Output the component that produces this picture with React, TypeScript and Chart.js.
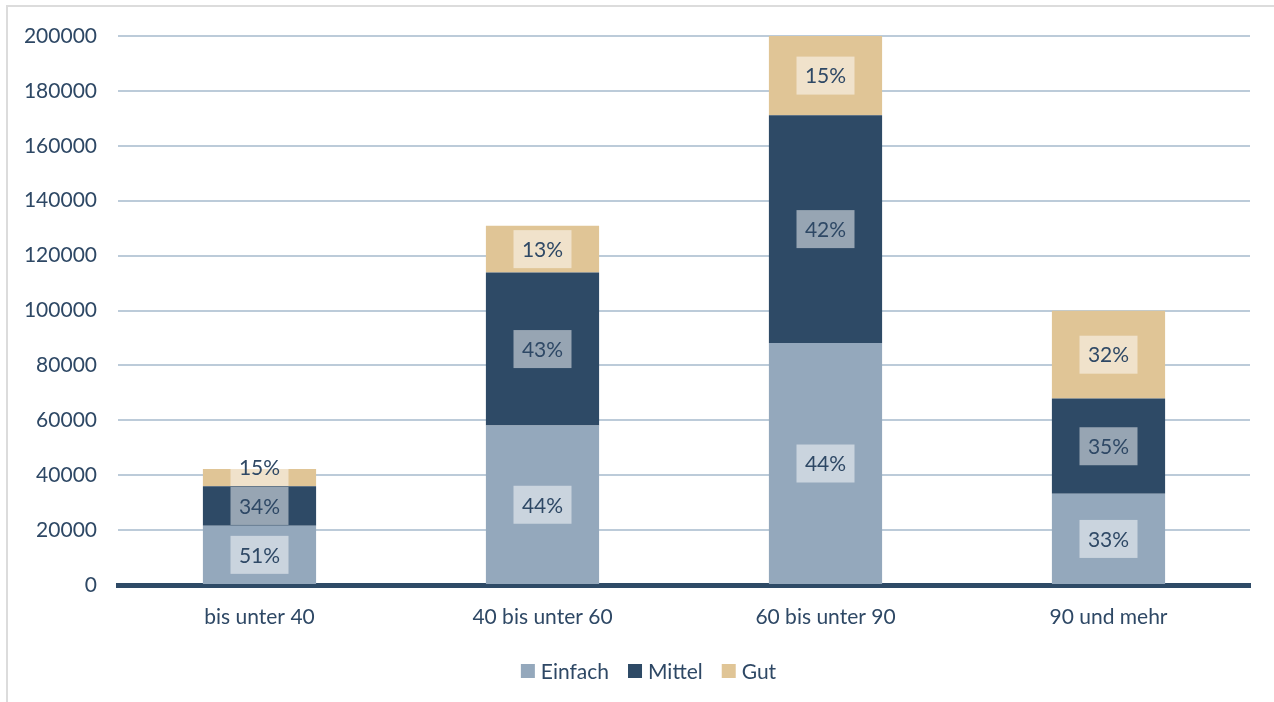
import React, { useEffect, useRef } from "react";
import { Chart, registerables } from "chart.js";

Chart.register(...registerables);

const categories = ["bis unter 40", "40 bis unter 60", "60 bis unter 90", "90 und mehr"];
const einfach = [21600, 58100, 88150, 33200];
const mittel = [14400, 55700, 83000, 34700];
const gut = [6300, 17100, 28850, 32000];
const pctEinfach = ["51%", "44%", "44%", "33%"];
const pctMittel = ["34%", "43%", "42%", "35%"];
const pctGut = ["15%", "13%", "15%", "32%"];
const yTicks = [0, 20000, 40000, 60000, 80000, 100000, 120000, 140000, 160000, 180000, 200000];

const TEXT = "#2e4865";
const FONT = "Lato";

const labelPlugin = {
  id: "segLabels",
  afterDatasetsDraw(chart: any) {
    const ctx = chart.ctx;
    const labelSets = [pctEinfach, pctMittel, pctGut];
    const boxW = 58;
    const boxH = 38;
    chart.data.datasets.forEach((_ds: any, di: number) => {
      const meta = chart.getDatasetMeta(di);
      meta.data.forEach((el: any, idx: number) => {
        const p = el.getProps(["x", "y", "base", "width"], true);
        const top = Math.min(p.y, p.base);
        const bottom = Math.max(p.y, p.base);
        const segH = bottom - top;
        let bTop: number;
        if (segH >= boxH) bTop = (top + bottom) / 2 - boxH / 2;
        else bTop = bottom - boxH;
        const cx = p.x;
        ctx.save();
        ctx.beginPath();
        ctx.rect(p.x - p.width / 2, top, p.width, segH);
        ctx.clip();
        ctx.fillStyle = "rgba(255,255,255,0.5)";
        ctx.fillRect(cx - boxW / 2, bTop, boxW, boxH);
        ctx.restore();
        ctx.save();
        ctx.fillStyle = TEXT;
        ctx.font = `21px ${FONT}`;
        ctx.textAlign = "center";
        ctx.textBaseline = "middle";
        ctx.fillText(labelSets[di][idx], cx, bTop + boxH / 2 + 1);
        ctx.restore();
      });
    });
  },
};

const legendPlugin = {
  id: "customLegend",
  afterDraw(chart: any) {
    const ctx = chart.ctx;
    ctx.save();
    ctx.font = `21px ${FONT}`;
    ctx.textBaseline = "middle";
    ctx.textAlign = "left";
    const box = 14;
    const gapBoxText = 6;
    const gapItems = 19;
    const items = chart.data.datasets.map((d: any) => ({
      text: d.label,
      color: d.backgroundColor,
      w: ctx.measureText(d.label).width,
    }));
    const total =
      items.reduce((s: number, it: any) => s + box + gapBoxText + it.w, 0) + gapItems * (items.length - 1);
    const centerX = 648.5;
    const cy = 671;
    let x = centerX - total / 2;
    items.forEach((it: any) => {
      ctx.fillStyle = it.color;
      ctx.fillRect(x, cy - box / 2, box, box);
      x += box + gapBoxText;
      ctx.fillStyle = TEXT;
      ctx.fillText(it.text, x, cy + 1);
      x += it.w + gapItems;
    });
    ctx.restore();
  },
};

export default function App() {
  const ref = useRef<HTMLCanvasElement | null>(null);
  useEffect(() => {
    if (!ref.current) return;
    const chart = new Chart(ref.current, {
      type: "bar",
      data: {
        labels: categories,
        datasets: [
          { label: "Einfach", data: einfach, backgroundColor: "#94a8bc", borderWidth: 0 },
          { label: "Mittel", data: mittel, backgroundColor: "#2e4a66", borderWidth: 0 },
          { label: "Gut", data: gut, backgroundColor: "#e0c596", borderWidth: 0 },
        ],
      },
      options: {
        responsive: false,
        animation: false,
        devicePixelRatio: 1,
        datasets: { bar: { barPercentage: 0.4, categoryPercentage: 1 } },
        layout: { padding: { top: 36, right: 24, left: 0, bottom: 57 } },
        plugins: {
          legend: { display: false },
          tooltip: { enabled: false },
        },
        scales: {
          x: {
            stacked: true,
            z: 1,
            grid: { display: false, drawTicks: false },
            border: { display: true, color: "#2e4a66", width: 5 },
            ticks: { color: TEXT, font: { family: FONT, size: 21 }, padding: 20, maxRotation: 0 },
            afterFit: (s: any) => {
              s.height = 60;
            },
          },
          y: {
            stacked: true,
            min: 0,
            max: 200000,
            afterBuildTicks: (s: any) => {
              s.ticks = yTicks.map((v) => ({ value: v }));
            },
            grid: { color: "#bccbd9", lineWidth: 2, drawTicks: false },
            border: { display: false },
            ticks: {
              color: TEXT,
              font: { family: FONT, size: 21 },
              padding: 21,
              callback: (v: any) => String(v),
            },
            afterFit: (s: any) => {
              s.width = 118;
            },
          },
        },
      },
      plugins: [labelPlugin, legendPlugin],
    });
    return () => chart.destroy();
  }, []);
  return (
    <div>
      <div
        style={{
          position: "fixed",
          left: 6,
          top: 5,
          width: 1400,
          height: 800,
          borderLeft: "2px solid #dcdcdc",
          borderTop: "2px solid #dcdcdc",
        }}
      />
      <canvas
        ref={ref}
        width={1274}
        height={702}
        style={{ position: "fixed", left: 0, top: 0, width: 1274, height: 702 }}
      />
    </div>
  );
}
